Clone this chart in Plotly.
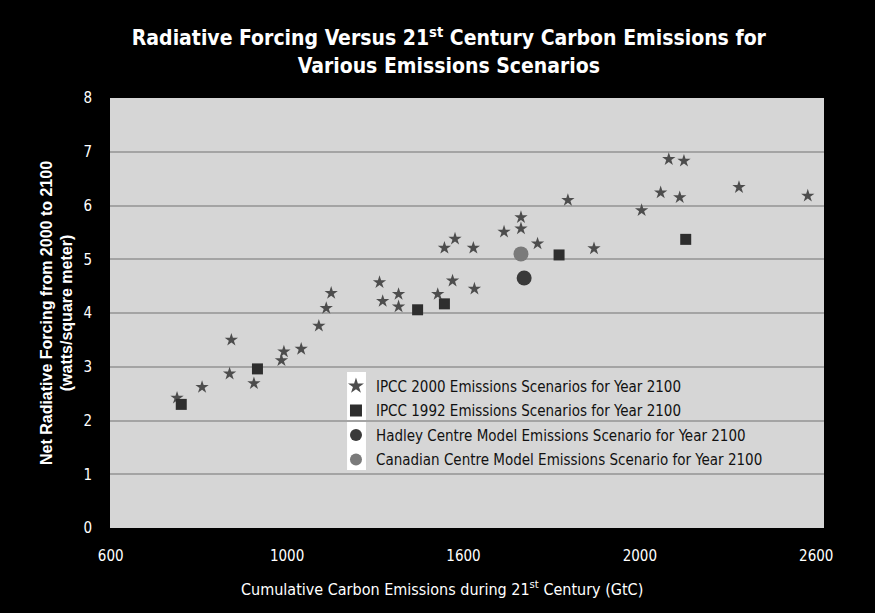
import plotly.graph_objects as go

# ---------------- data ----------------
ipcc2000_x = [1225, 1211, 1190, 1140, 1091, 1084, 942, 937, 1006, 859, 788,
              1763, 1763, 1715, 1576, 1546, 1628, 1810, 1362, 1569, 1631,
              1416, 1371, 1416, 1527, 1896, 2182, 2225, 2159, 2213, 2105,
              2381, 2576, 1970]
ipcc2000_y = [4.37, 4.09, 3.76, 3.33, 3.28, 3.12, 3.50, 2.87, 2.69, 2.62, 2.42,
              5.78, 5.57, 5.51, 5.38, 5.21, 5.21, 5.29, 4.57, 4.60, 4.45,
              4.35, 4.22, 4.12, 4.35, 6.10, 6.86, 6.83, 6.24, 6.15, 5.91,
              6.34, 6.18, 5.20]

ipcc1992_x = [800, 1016, 1470, 1546, 1871, 2230]
ipcc1992_y = [2.30, 2.96, 4.06, 4.17, 5.08, 5.37]

hadley_x = [1772]
hadley_y = [4.65]

canadian_x = [1763]
canadian_y = [5.10]

series_names = [
    "IPCC 2000 Emissions Scenarios for Year 2100",
    "IPCC 1992 Emissions Scenarios for Year 2100",
    "Hadley Centre Model Emissions Scenario for Year 2100",
    "Canadian Centre Model Emissions Scenario for Year 2100",
]

x_tick_vals = [600, 1100, 1600, 2100, 2600]
x_tick_text = ["600", "1000", "1600", "2000", "2600"]
y_tick_vals = [0, 1, 2, 3, 4, 5, 6, 7, 8]

# ---------------- figure ----------------
COND = "DejaVu Sans Condensed, Liberation Sans Narrow, Arial Narrow, sans-serif"
ARIAL = "Liberation Sans, Arial, sans-serif"

fig = go.Figure()
fig.add_trace(go.Scatter(
    x=ipcc2000_x, y=ipcc2000_y, mode="markers", name=series_names[0],
    legendgroup="a",
    marker=dict(symbol="star", size=10, color="#4d4d4d",
                line=dict(width=0))))
fig.add_trace(go.Scatter(
    x=ipcc1992_x, y=ipcc1992_y, mode="markers", name=series_names[1],
    legendgroup="b",
    marker=dict(symbol="square", size=11, color="#2e2e2e",
                line=dict(width=0))))
fig.add_trace(go.Scatter(
    x=hadley_x, y=hadley_y, mode="markers", name=series_names[2],
    legendgroup="c",
    marker=dict(symbol="circle", size=15, color="#3a3a3a",
                line=dict(width=0))))
fig.add_trace(go.Scatter(
    x=canadian_x, y=canadian_y, mode="markers", name=series_names[3],
    legendgroup="d",
    marker=dict(symbol="circle", size=15, color="#7a7a7a",
                line=dict(width=0))))

# white strip behind legend symbols
fig.add_shape(type="rect", xref="paper", yref="paper",
              x0=0.332, x1=0.3585, y0=0.135, y1=0.363,
              fillcolor="white", line=dict(width=0), layer="below")

# x-axis title (placed as annotation, slightly left of plot centre as in reference)
fig.add_annotation(
    text="Cumulative Carbon Emissions during 21<sup>st</sup> Century (GtC)",
    xref="paper", yref="paper", x=0.465, y=-0.14,
    xanchor="center", yanchor="middle", showarrow=False,
    font=dict(family=COND, size=16, color="white"))

fig.update_layout(
    width=875, height=613,
    paper_bgcolor="black",
    plot_bgcolor="#d6d6d6",
    margin=dict(l=110, r=51, t=98, b=85),
    title=dict(
        text="<b>Radiative Forcing Versus 21<sup>st</sup> Century Carbon Emissions for<br>Various Emissions Scenarios</b>",
        x=0.513, xanchor="center", y=0.926, yanchor="top",
        font=dict(family=COND, size=21, color="white")),
    font=dict(family=COND, color="white"),
    showlegend=True,
    legend=dict(
        x=0.3165, y=0.368, xanchor="left", yanchor="top",
        bgcolor="rgba(0,0,0,0)", borderwidth=0,
        font=dict(family=COND, size=15, color="#111111"),
        traceorder="grouped", tracegroupgap=2,
        itemsizing="constant"),
    xaxis=dict(
        range=[598, 2622],
        tickvals=x_tick_vals, ticktext=x_tick_text,
        showgrid=False, zeroline=False, showline=False,
        ticks="outside", ticklen=14, tickcolor="black",
        tickfont=dict(family=COND, size=15, color="white")),
    yaxis=dict(
        range=[0, 8],
        tickvals=y_tick_vals,
        showgrid=True, gridcolor="#a4a4a4", gridwidth=1.5,
        zeroline=False, showline=False,
        ticks="outside", ticklen=14, tickcolor="black",
        tickfont=dict(family=COND, size=15, color="white"),
        title=dict(text="<b>Net Radiative Forcing from 2000 to 2100<br>(watts/square meter)</b>",
                   font=dict(family=ARIAL, size=16, color="white"),
                   standoff=6)),
)

fig.write_html("out.html", config={"displayModeBar": False},
               post_script="document.body.style.margin='0';")
